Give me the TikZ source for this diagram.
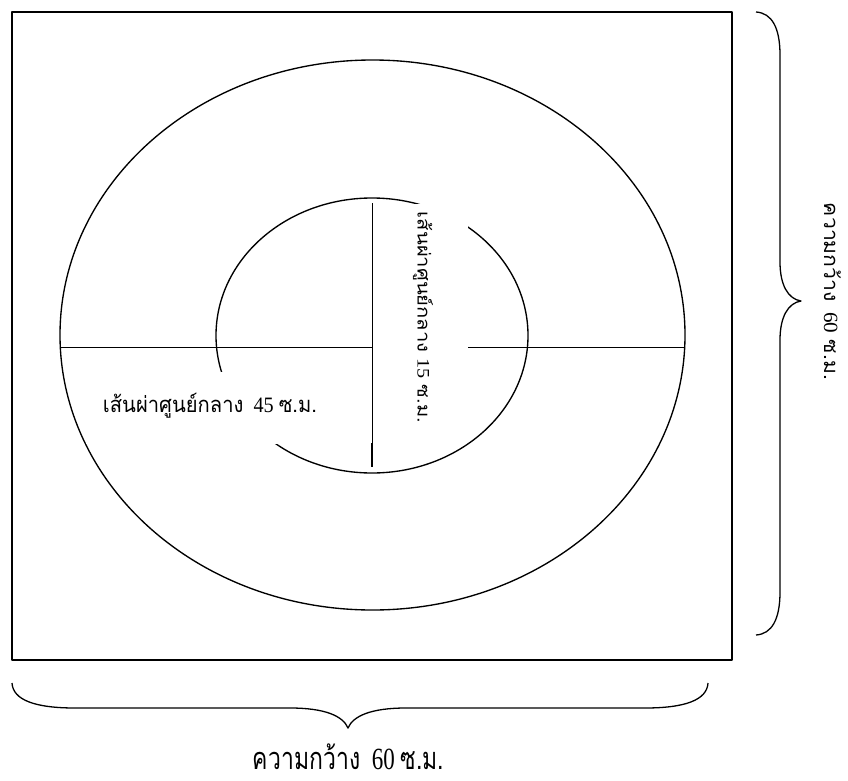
\documentclass[tikz,border=0pt]{standalone}
\usepackage{fontspec}
\usepackage{graphicx}
\newfontfamily\thaif[Script=Thai]{Loma}
\newfontfamily\serf{Liberation Serif}
\newcommand{\downtext}[1]{\rotatebox{-90}{#1}}

\begin{document}
\begin{tikzpicture}[x=1pt,y=-1pt, line join=round,
  frame/.style={line width=1.5pt},
  curve/.style={line width=1.35pt},
  rule/.style={line width=1.2pt},
  thinrule/.style={line width=0.7pt},
  bracepath/.style={line width=1.3pt},
  mask/.style={fill=white, draw=none},
  lbl/.style={inner sep=0pt, outer sep=0pt},
  txtfont/.style={font=\fontsize{20}{24}\selectfont}]
\useasboundingbox (0,0) rectangle (848,781);

% outer square
\draw[frame] (12,12) rectangle (732,660);

% ellipses
\draw[curve] (372.5,335) ellipse [x radius=312.5, y radius=275];
\draw[curve] (372,335.5) ellipse [x radius=156, y radius=137.5];

% horizontal diameter
\coordinate (hl) at (60.3,347.5);
\coordinate (hr) at (684.7,347.5);
\draw[rule] (hl) -- (hr);

% white text boxes
\fill[mask] (86,372) rectangle (330,444);
\fill[mask] (373,204) rectangle (468,443);

% vertical radius
\coordinate (vt) at (372,203);
\coordinate (vm) at (372,443);
\coordinate (vb) at (372,467);
\draw[thinrule] (vt) -- (vb);
\draw[rule] (vm) -- (vb);

% labels
\node[lbl, txtfont] (d45) at (210,405.5)
  {\resizebox*{214pt}{25pt}{\thaif เส้นผ่าศูนย์กลาง\hspace{0.5em}{\serf 45}\hspace{0.25em}ซ.ม.}};
\node[lbl, txtfont] (d15) at (423,317.5)
  {\downtext{\resizebox*{211pt}{20pt}{\thaif เส้นผ่าศูนย์กลาง\hspace{0.3em}{\serf 15}\hspace{0.3em}ซ.ม.}}};
\node[lbl, txtfont] (wr) at (832.5,291.5)
  {\downtext{\resizebox*{177pt}{17pt}{\thaif ความกว้าง\hspace{0.5em}{\serf 60}\hspace{0.3em}ซ.ม.}}};
\node[lbl, txtfont] (wb) at (348.5,757)
  {\resizebox*{191pt}{26pt}{\thaif ความกว้าง\hspace{0.5em}{\serf 60}\hspace{0.25em}ซ.ม.}};

% right brace
\draw[bracepath] (756,12) .. controls (772,13) and (780,28) .. (780,55)
  -- (780,262) .. controls (780,285) and (788,299) .. (801,301)
  .. controls (788,303) and (780,317) .. (780,340)
  -- (780,592) .. controls (780,619) and (772,634) .. (756,635);

% bottom brace
\draw[bracepath] (12,683) .. controls (13,700) and (35,708) .. (75,708)
  -- (290,708) .. controls (325,708) and (343,716) .. (348,728)
  .. controls (353,716) and (371,708) .. (406,708)
  -- (645,708) .. controls (685,708) and (707,700) .. (708,683);
\end{tikzpicture}
\end{document}
